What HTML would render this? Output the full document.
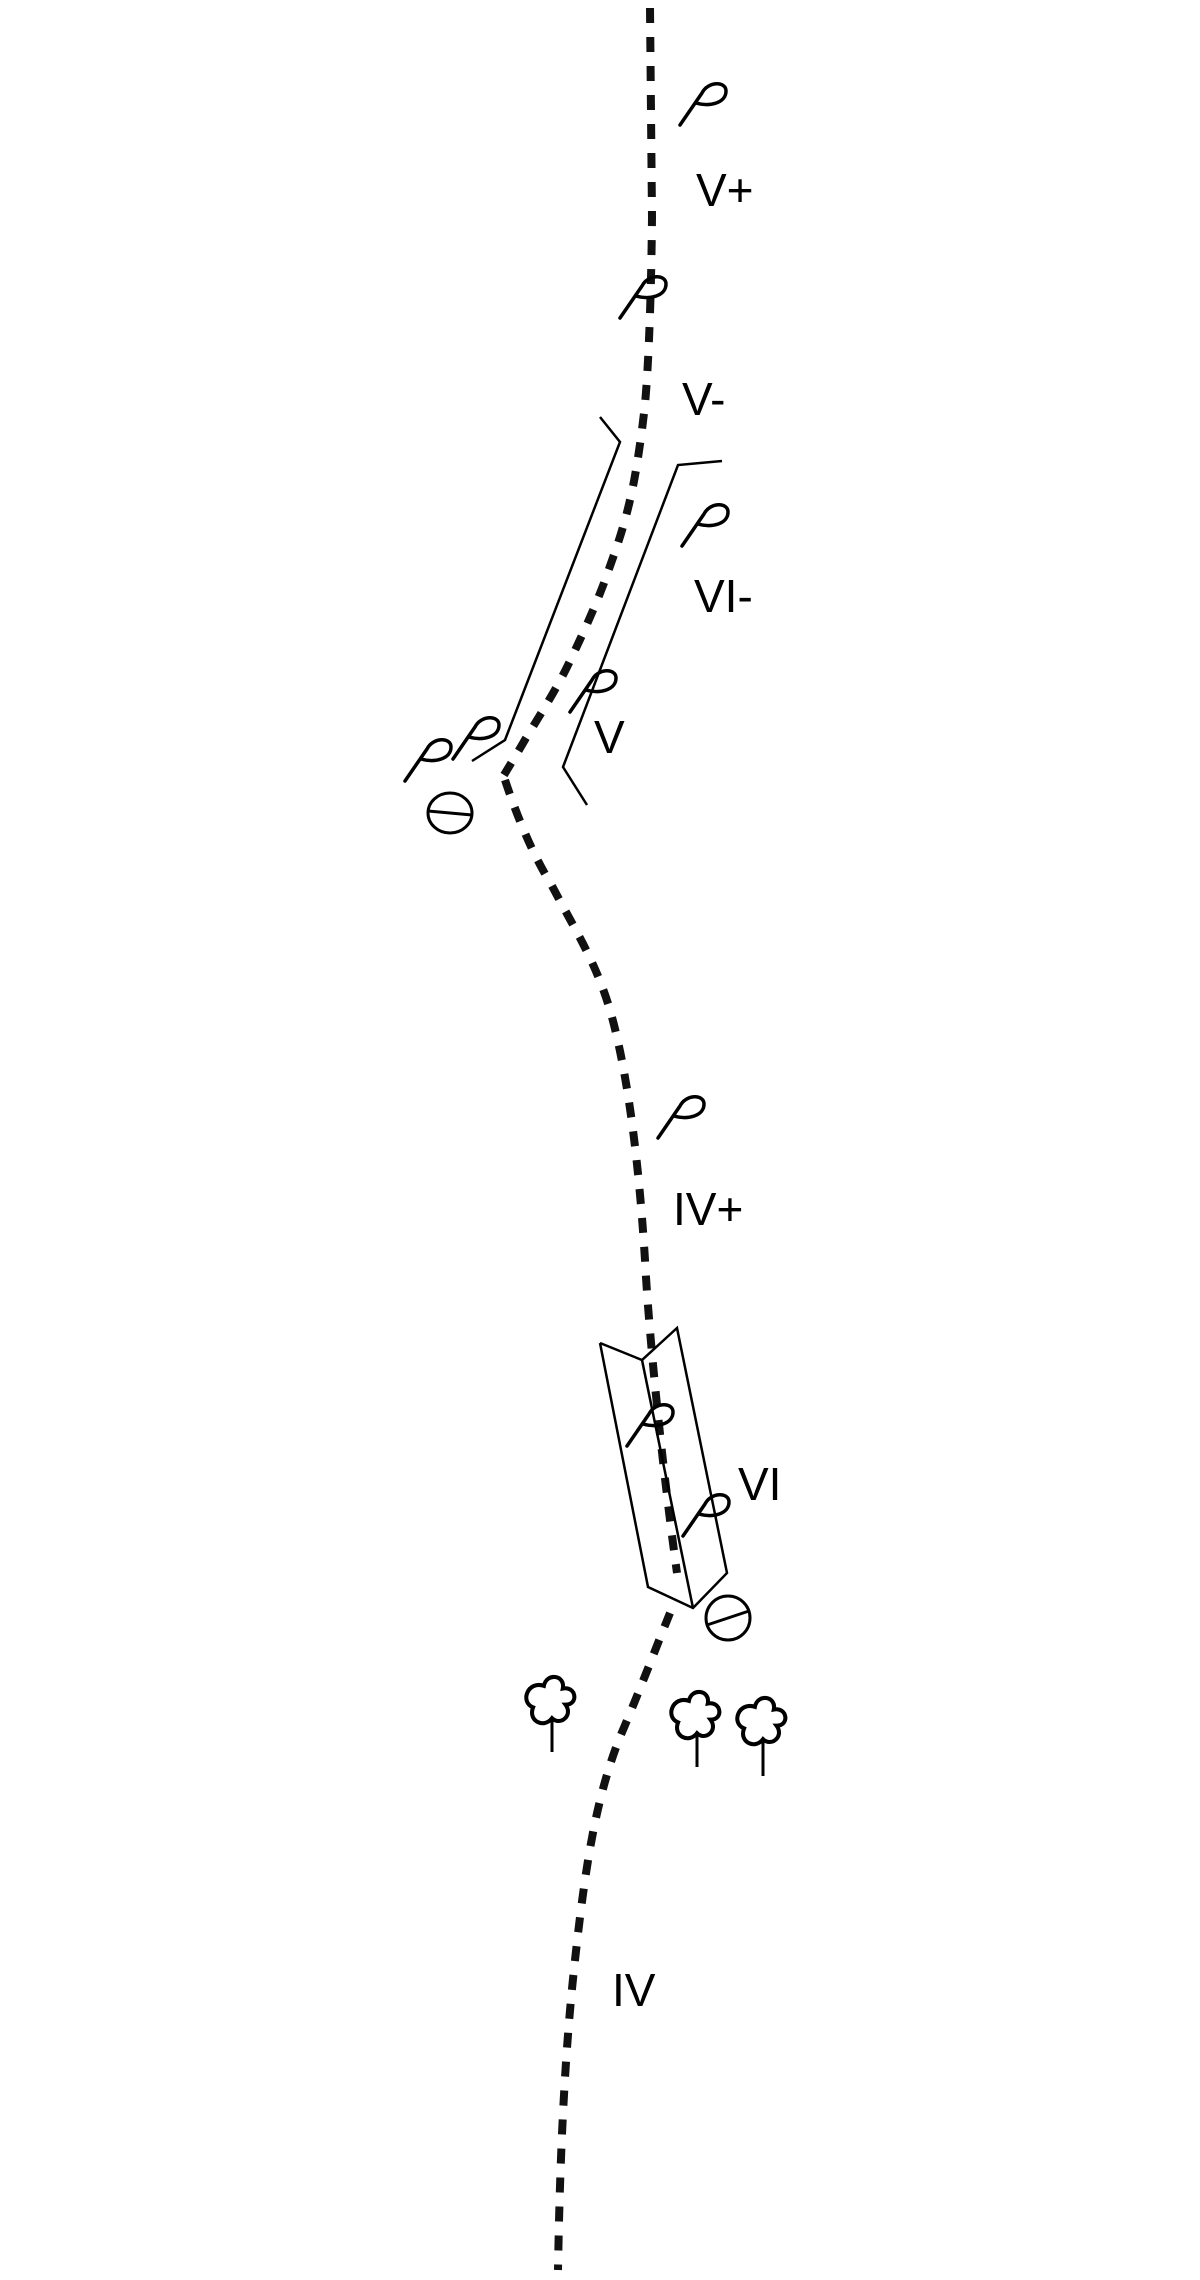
<!DOCTYPE html>
<html><head><meta charset="utf-8"><style>html,body{margin:0;padding:0;background:#fff}svg{display:block}</style></head>
<body>
<svg width="1200" height="2280" viewBox="0 0 1200 2280" xmlns="http://www.w3.org/2000/svg">
<defs>
<path id="P" d="M0,44 L22,12 M22,12 C28,0 46,0 46,10 C46,22 30,26 16,22" fill="none" stroke="#000" stroke-width="3.5" stroke-linecap="round"/>
<path id="T" d="M-6,-12 C-4,-22 10,-20 8,-10 C18,-12 20,2 10,2 C16,10 6,18 0,12 C-6,20 -18,14 -14,4 C-24,0 -18,-16 -6,-12 Z"/>
</defs>
<g fill="none" stroke="#111" stroke-width="8" stroke-dasharray="15 14">
<path d="M650,8 L652,217 C651,320 647,390 644,413 C641,440 635,480 630,500 C622,535 612,560 604,583 C593,612 580,640 569,663 C556,690 540,715 526,738 C518,752 510,765 504,775"/>
<path d="M505,780 C515,810 530,850 551,884 C575,930 595,960 610,1010 C630,1080 640,1180 645,1260 C648,1320 660,1450 677,1573"/>
<path d="M670,1613 C655,1650 640,1690 620,1737 C595,1800 585,1870 575,1960 C565,2050 560,2150 558,2270"/>
</g>
<g fill="none" stroke="#000" stroke-width="2.5" stroke-linejoin="miter">
<polyline points="600,417 620,442 505,740 472,761"/>
<polyline points="722,461 678,465 563,767 587,805"/>
<polyline points="600,1343 642,1360 677,1328 727,1573 693,1608 648,1587 600,1343"/>
<line x1="642" y1="1360" x2="693" y2="1608"/>
</g>
<g fill="none" stroke="#000" stroke-width="3">
<ellipse cx="450" cy="813" rx="22" ry="20"/>
<line x1="428" y1="811" x2="472" y2="815"/>
<circle cx="728" cy="1618" r="22"/>
<line x1="707" y1="1625" x2="749" y2="1611"/>
</g>
<use href="#P" x="680" y="81"/>
<use href="#P" x="620" y="274"/>
<use href="#P" x="682" y="502"/>
<use href="#P" x="570" y="668"/>
<use href="#P" x="453" y="715"/>
<use href="#P" x="405" y="737"/>
<use href="#P" x="658" y="1094"/>
<use href="#P" x="627" y="1402"/>
<use href="#P" x="683" y="1492"/>
<g font-family="Liberation Sans, sans-serif" font-size="46" fill="#000" font-weight="normal">
<text x="696" y="206">V+</text>
<text x="682" y="415">V-</text>
<text x="694" y="612">VI-</text>
<text x="594" y="753">V</text>
<text x="673" y="1225">IV+</text>
<text x="738" y="1500">VI</text>
<text x="612" y="2006">IV</text>
</g>
<g fill="none" stroke="#000" stroke-width="3">
<g transform="translate(552,1702)"><use href="#T" transform="scale(1.35)"/><line x1="0" y1="16" x2="0" y2="50"/></g>
<g transform="translate(697,1717)"><use href="#T" transform="scale(1.35)"/><line x1="0" y1="16" x2="0" y2="50"/></g>
<g transform="translate(763,1723)"><use href="#T" transform="scale(1.35)"/><line x1="0" y1="16" x2="0" y2="53"/></g>
</g>
</svg>
</body></html>
